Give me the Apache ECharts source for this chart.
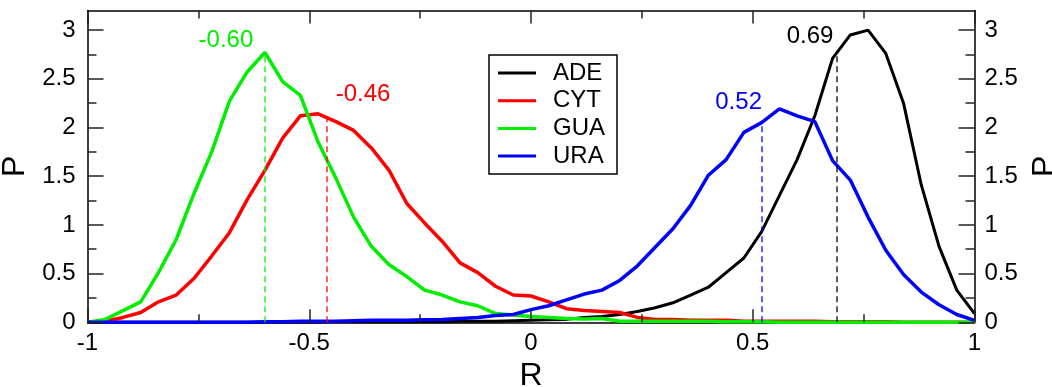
<!DOCTYPE html>
<html>
<head>
<meta charset="utf-8">
<script src="https://cdn.jsdelivr.net/npm/echarts@6/dist/echarts.min.js"></script>
<style>
  html, body { margin: 0; padding: 0; background: #fff; }
  #chart { width: 1052px; height: 387px; }
</style>
</head>
<body>
<div id="chart"></div>
<script>
// R values (x) and P for each base
var rValues = [-1, -0.96, -0.92, -0.88, -0.84, -0.8, -0.76, -0.72, -0.68, -0.64,
    -0.6, -0.56, -0.52, -0.48, -0.44, -0.4, -0.36, -0.32, -0.28, -0.24,
    -0.2, -0.16, -0.12, -0.08, -0.04, 0, 0.04, 0.08, 0.12, 0.16,
    0.2, 0.24, 0.28, 0.32, 0.36, 0.4, 0.44, 0.48, 0.52, 0.56,
    0.6, 0.64, 0.68, 0.72, 0.76, 0.8, 0.84, 0.88, 0.92, 0.96, 1]

var ade = [0, 0, 0, 0, 0, 0, 0, 0, 0, 0,
    0, 0, 0, 0, 0.005, 0.005, 0.005, 0.005, 0.005, 0.005,
    0.005, 0.01, 0.01, 0.01, 0.015, 0.02, 0.025, 0.03, 0.05, 0.06,
    0.08, 0.11, 0.15, 0.20, 0.28, 0.36, 0.51, 0.66, 0.93, 1.30,
    1.67, 2.12, 2.71, 2.95, 3.00, 2.76, 2.25, 1.41, 0.78, 0.33, 0.09]
var cyt = [0, 0.01, 0.05, 0.10, 0.21, 0.28, 0.45, 0.68, 0.92, 1.26,
    1.56, 1.89, 2.12, 2.14, 2.06, 1.97, 1.79, 1.56, 1.22, 1.02,
    0.83, 0.61, 0.51, 0.37, 0.28, 0.27, 0.21, 0.14, 0.12, 0.11,
    0.10, 0.05, 0.03, 0.03, 0.02, 0.02, 0.02, 0.01, 0.01, 0.01,
    0.01, 0.01, 0.005, 0.005, 0.005, 0.005, 0, 0, 0, 0, 0]
var gua = [0, 0.03, 0.12, 0.21, 0.51, 0.85, 1.32, 1.75, 2.27, 2.57,
    2.77, 2.47, 2.33, 1.85, 1.48, 1.08, 0.78, 0.59, 0.47, 0.33,
    0.28, 0.21, 0.17, 0.09, 0.075, 0.06, 0.05, 0.04, 0.035, 0.04,
    0.01, 0.01, 0.01, 0.01, 0.01, 0.01, 0.005, 0.005, 0.005, 0,
    0, 0, 0, 0, 0, 0, 0, 0, 0, 0, 0]
var ura = [0, 0, 0, 0, 0, 0, 0, 0, 0, 0,
    0.005, 0.005, 0.01, 0.01, 0.01, 0.015, 0.02, 0.02, 0.02, 0.025,
    0.03, 0.04, 0.05, 0.07, 0.08, 0.13, 0.17, 0.23, 0.29, 0.33,
    0.43, 0.58, 0.77, 0.96, 1.20, 1.51, 1.67, 1.95, 2.05, 2.19,
    2.12, 2.06, 1.66, 1.46, 1.08, 0.74, 0.49, 0.31, 0.18, 0.08, 0.02]

var names = ['ADE', 'CYT', 'GUA', 'URA']
var colors = ['#000000', '#ff0000', '#00ee00', '#0000ff']
// most probable R per base (dashed marker + label)
var peakR = [0.69, -0.46, -0.60, 0.52]
var peakP = [2.76, 2.12, 2.77, 2.05]
var peakText = ['0.69', '-0.46', '-0.60', '0.52']

// frame tick positions (major every 0.5, minor in between)
var xTicks = [-1, -0.75, -0.5, -0.25, 0, 0.25, 0.5, 0.75, 1]
var yTicks = [0, 0.25, 0.5, 0.75, 1, 1.25, 1.5, 1.75, 2, 2.25, 2.5, 2.75, 3]

var allP = [ade, cyt, gua, ura]
var labelOffsets = [[-27, -17], [36, -21], [-39, -12], [-23, -20]]

var font = 'Liberation Sans'
var seriesData = []
for (let i in names) {
    let pts = rValues.map(function (r, j) { return [r, allP[i][j]] })
    seriesData.push({
        name: names[i],
        type: 'line',
        data: pts,
        symbol: 'none',
        color: colors[i],
        lineStyle: { width: i == 0 ? 3 : 3.5, color: colors[i] },
        markLine: {
            silent: true,
            symbol: 'none',
            label: { show: false },
            lineStyle: { type: [6, 4], width: 1.5, color: colors[i], opacity: 0.85 },
            data: [[{ coord: [peakR[i], 0] }, { coord: [peakR[i], peakP[i]] }]]
        },
        markPoint: {
            silent: true,
            symbol: 'circle',
            symbolSize: 1,
            itemStyle: { color: 'rgba(0,0,0,0)' },
            label: {
                show: true,
                position: 'inside',
                offset: labelOffsets[i],
                formatter: peakText[i],
                color: colors[i],
                fontSize: 24,
                fontFamily: font
            },
            data: [{ coord: [peakR[i], peakP[i]] }]
        }
    })
}

// inward ticks on all four sides: short markLine segments on a helper series,
// placed on the axes' own scale (x ticks at y = 0 / 3.2, y ticks at x = -1 / 1)
function isMajor(v) { return Math.abs(v * 2 - Math.round(v * 2)) < 1e-9 }
var pxPerR = 887 / 2      // grid width / R range
var pxPerP = 311.7 / 3.2  // grid height / P range
var tickLines = []
xTicks.forEach(function (v) {
    let len = (isMajor(v) ? 13 : 8) / pxPerP
    tickLines.push([{ coord: [v, 0] }, { coord: [v, len] }])
    tickLines.push([{ coord: [v, 3.2] }, { coord: [v, 3.2 - len] }])
})
yTicks.forEach(function (v) {
    let len = (isMajor(v) ? 16 : 9) / pxPerR
    tickLines.push([{ coord: [-1, v] }, { coord: [-1 + len, v] }])
    tickLines.push([{ coord: [1, v] }, { coord: [1 - len, v] }])
})
seriesData.push({
    name: 'ticks',
    type: 'line',
    data: [],
    symbol: 'none',
    silent: true,
    markLine: {
        silent: true,
        symbol: 'none',
        animation: false,
        label: { show: false },
        lineStyle: { type: 'solid', width: 1.5, color: '#222' },
        data: tickLines
    }
})

function yAxisDef(pos) {
    return {
        type: 'value',
        position: pos,
        min: 0,
        max: 3.2,
        interval: 0.5,
        name: 'P',
        nameLocation: 'middle',
        nameRotate: 90,
        nameGap: pos == 'left' ? 54 : 49,
        nameTextStyle: { fontSize: 32, color: '#000', fontFamily: font },
        axisLine: { show: true, onZero: false, lineStyle: { color: '#000', width: 1.5 } },
        axisTick: { show: false },
        axisLabel: { showMaxLabel: false, margin: pos == 'left' ? 12 : 10,
            fontSize: 24, color: '#000', fontFamily: font },
        splitLine: { show: false }
    }
}

function xAxisDef(pos, withLabels) {
    return {
        type: 'value',
        position: pos,
        min: -1,
        max: 1,
        interval: 0.5,
        name: withLabels ? 'R' : '',
        nameLocation: 'middle',
        nameGap: 34,
        nameTextStyle: { fontSize: 32, color: '#000', fontFamily: font },
        axisLine: { show: true, onZero: false, lineStyle: { color: '#000', width: 1.5 } },
        axisTick: { show: false },
        axisLabel: { show: withLabels, margin: 9, fontSize: 24, color: '#000', fontFamily: font },
        splitLine: { show: false }
    }
}

var chart = echarts.init(document.getElementById('chart'))
chart.setOption({
    animation: false,
    backgroundColor: '#fff',
    textStyle: { fontFamily: font },
    grid: { left: 87.5, right: 77.5, top: 10.6, bottom: 64.7, containLabel: false, outerBoundsMode: 'none' },
    legend: {
        data: names.map(function (n) { return { name: n, icon: 'rect' } }),
        orient: 'vertical',
        left: 489,
        top: 55,
        padding: [5, 12, 5, 9],
        itemWidth: 38,
        itemHeight: 3,
        itemGap: 1.7,
        borderColor: '#000',
        borderWidth: 1.5,
        textStyle: { fontSize: 24, color: '#000', lineHeight: 26, padding: [0, 0, 0, 12], fontFamily: font }
    },
    xAxis: [xAxisDef('bottom', true), xAxisDef('top', false)],
    yAxis: [yAxisDef('left'), yAxisDef('right')],
    series: seriesData
})
</script>
</body>
</html>
